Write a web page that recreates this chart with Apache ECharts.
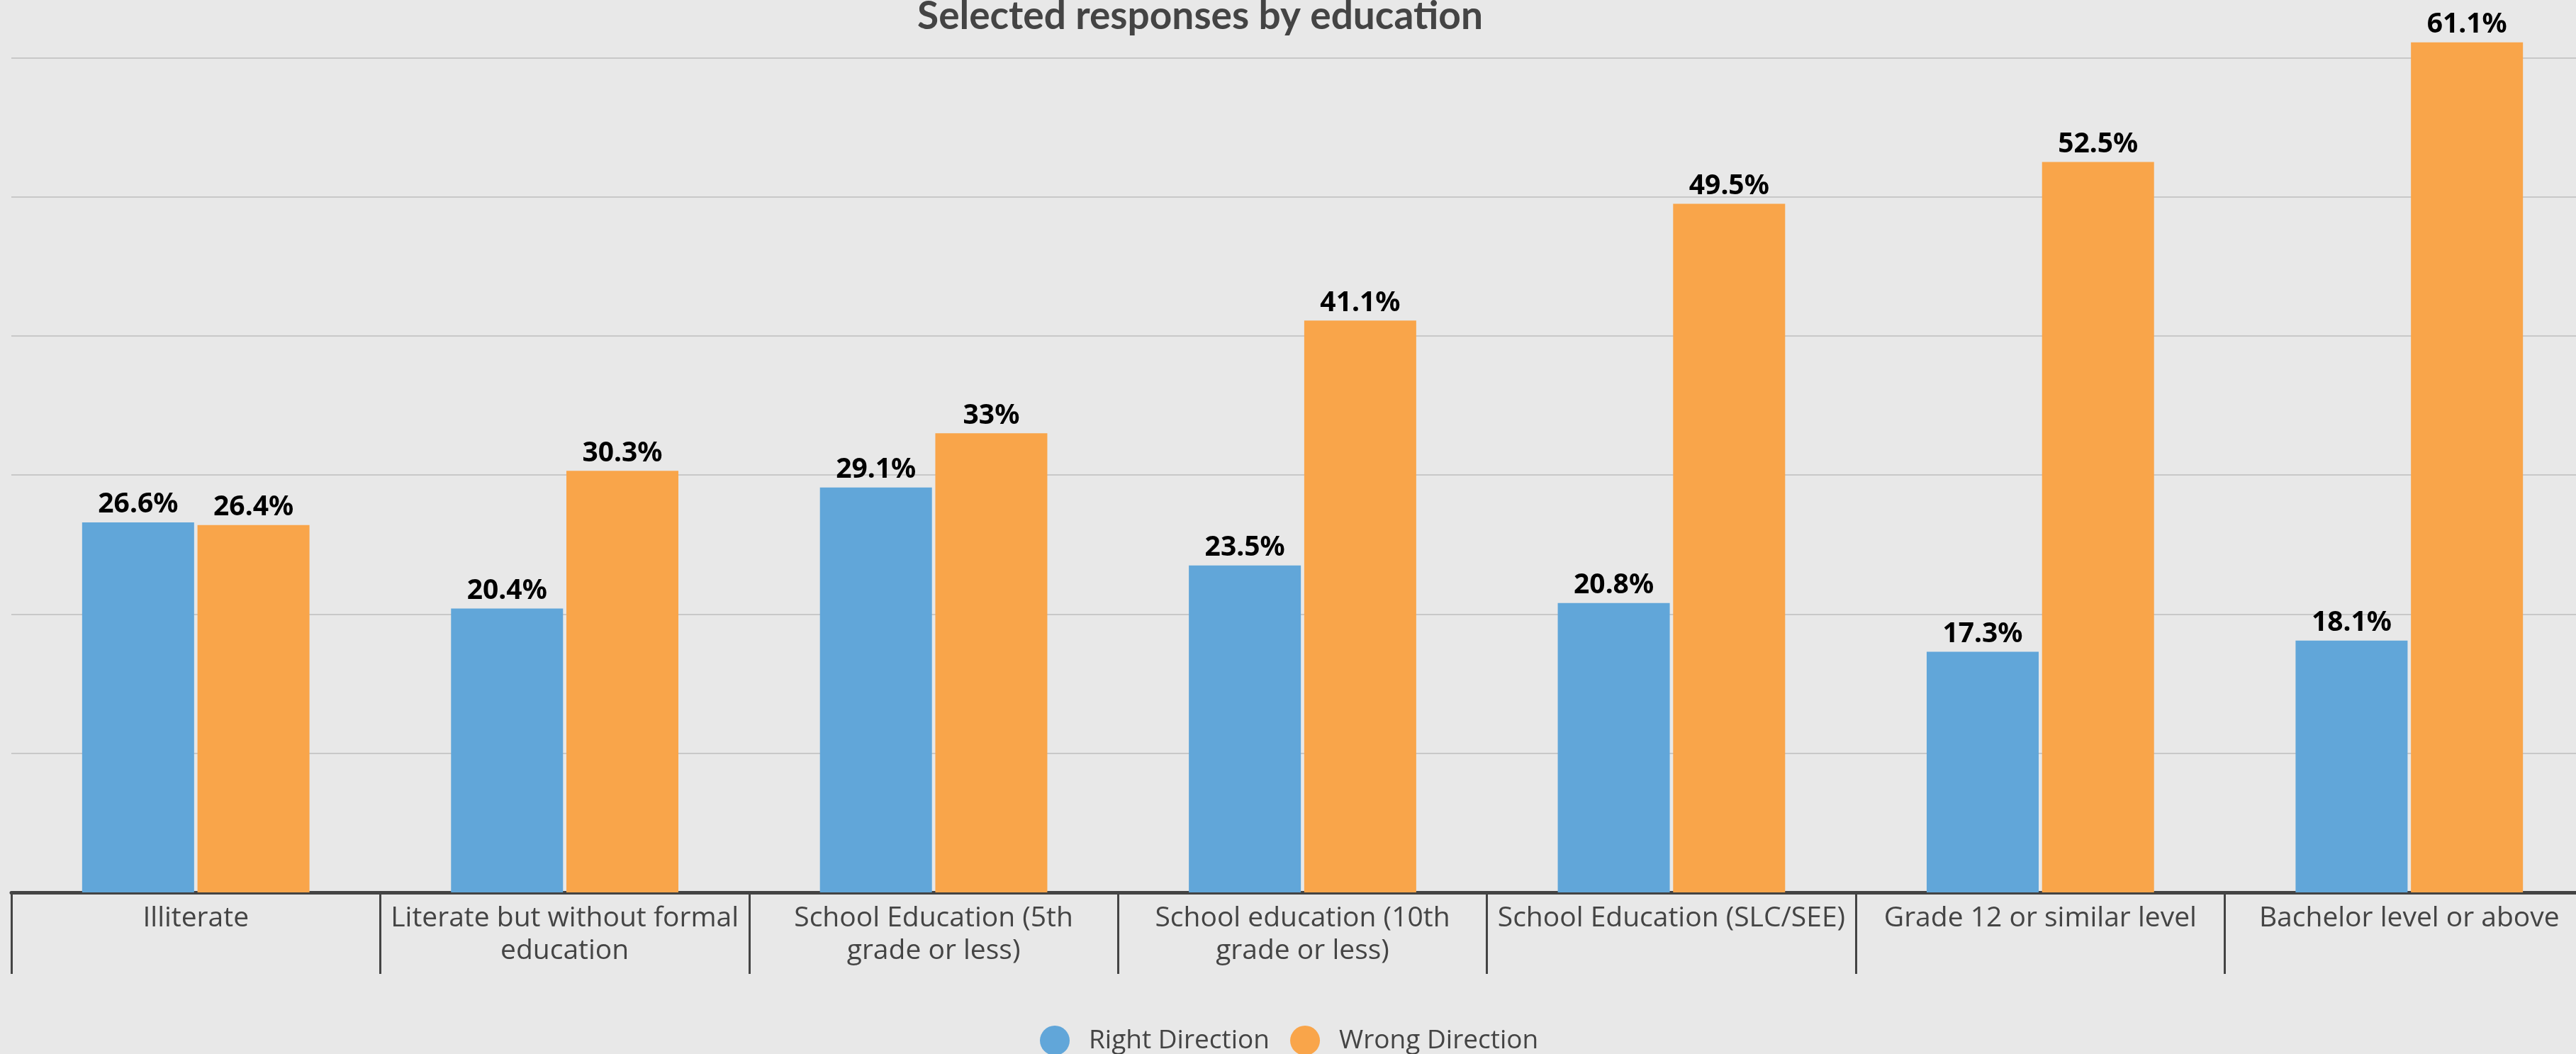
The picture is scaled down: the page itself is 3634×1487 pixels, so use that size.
<!DOCTYPE html>
<html>
<head>
<meta charset="utf-8">
<script src="https://cdn.jsdelivr.net/npm/echarts@6/dist/echarts.min.js"></script>
<style>
html,body{margin:0;padding:0;background:#e8e8e8;}
#chart{width:3634px;height:1487px;}
</style>
</head>
<body>
<div id="chart"></div>
<script>
const categories = [
  "Illiterate",
  "Literate but without formal education",
  "School Education (5th grade or less)",
  "School education (10th grade or less)",
  "School Education (SLC/SEE)",
  "Grade 12 or similar level",
  "Bachelor level or above"
];
const categoryLabelLines = [
  "Illiterate",
  "Literate but without formal\neducation",
  "School Education (5th\ngrade or less)",
  "School education (10th\ngrade or less)",
  "School Education (SLC/SEE)",
  "Grade 12 or similar level",
  "Bachelor level or above"
];
const rightDirection = [26.6, 20.4, 29.1, 23.5, 20.8, 17.3, 18.1];
const wrongDirection = [26.4, 30.3, 33, 41.1, 49.5, 52.5, 61.1];
const seriesNames = ["Right Direction", "Wrong Direction"];
const titleText = "Selected responses by education";

const chart = echarts.init(document.getElementById('chart'), null, {renderer: 'canvas'});
const labelStyle = {
  show: true,
  position: 'top',
  distance: 5,
  formatter: p => p.value + '%',
  color: '#000',
  fontFamily: 'Noto Sans',
  fontWeight: 'bold',
  fontSize: 39
};
chart.setOption({
  backgroundColor: '#e8e8e8',
  animation: false,
  title: {
    text: titleText,
    left: 1688,
    textAlign: 'center',
    top: -9,
    textStyle: {color: '#444', fontFamily: 'Lato', fontWeight: 'bold', fontSize: 55}
  },
  legend: {
    data: seriesNames,
    left: 1462,
    top: 1442,
    icon: 'circle',
    itemWidth: 42,
    itemHeight: 42,
    itemGap: 29,
    textStyle: {color: '#444', fontFamily: 'Open Sans', fontSize: 37, padding: [0, 0, 0, 22]}
  },
  grid: {left: 16, right: -25, top: -115, bottom: 228, containLabel: false, outerBoundsMode: 'none'},
  xAxis: {
    type: 'category',
    data: categories,
    axisLine: {lineStyle: {color: '#444', width: 5}},
    axisTick: {show: true, length: 115, lineStyle: {color: '#444', width: 3}},
    axisLabel: {
      interval: 0,
      margin: 14,
      color: '#444',
      fontFamily: 'Open Sans',
      fontSize: 39,
      lineHeight: 46,
      formatter: (v, i) => categoryLabelLines[i]
    }
  },
  yAxis: {
    type: 'value',
    min: 0,
    max: 70,
    interval: 10,
    axisLabel: {show: false},
    axisLine: {show: false},
    axisTick: {show: false},
    splitLine: {lineStyle: {color: '#c8c8c8', width: 2}}
  },
  series: [
    {
      name: seriesNames[0],
      type: 'bar',
      data: rightDirection,
      barWidth: 158,
      barGap: '3%',
      itemStyle: {color: '#61a6d9'},
      label: labelStyle
    },
    {
      name: seriesNames[1],
      type: 'bar',
      data: wrongDirection,
      barWidth: 158,
      barGap: '3%',
      itemStyle: {color: '#f9a54a'},
      label: labelStyle
    }
  ]
});
</script>
</body>
</html>
